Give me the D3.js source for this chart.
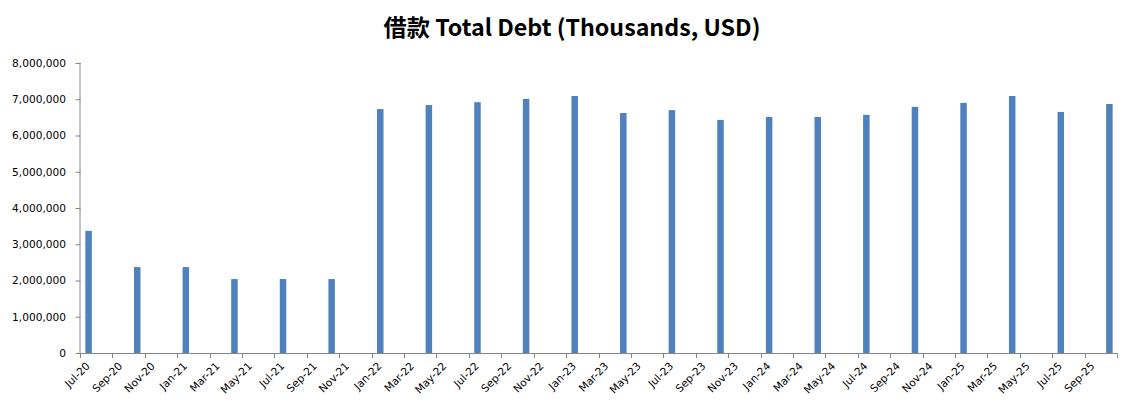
<!DOCTYPE html>
<html>
<head>
<meta charset="utf-8">
<script src="https://cdn.jsdelivr.net/npm/d3@7"></script>
<style>
html,body{margin:0;padding:0;background:#fff;}
svg{display:block;}
</style>
</head>
<body>
<svg id="chart" width="1131" height="409"></svg>
<script>
// ---- data ----
const titleText = "借款 Total Debt (Thousands, USD)";
const periods = ["2020-07","2020-10","2021-01","2021-04","2021-07","2021-10",
  "2022-01","2022-04","2022-07","2022-10","2023-01","2023-04","2023-07","2023-10",
  "2024-01","2024-04","2024-07","2024-10","2025-01","2025-04","2025-07","2025-10"];
const totalDebt = [3370000,2370000,2370000,2040000,2040000,2040000,
  6730000,6840000,6920000,7010000,7090000,6620000,6700000,6430000,
  6510000,6510000,6570000,6790000,6900000,7090000,6650000,6870000];
const yTicks = [0,1000000,2000000,3000000,4000000,5000000,6000000,7000000,8000000];
const axisStart = "2020-07", axisMonths = 64, tickEvery = 2, lastLabelIndex = 62;

const monthNames = ["Jan","Feb","Mar","Apr","May","Jun","Jul","Aug","Sep","Oct","Nov","Dec"];
function addMonths(ym, k){
  const [y,m] = ym.split("-").map(Number);
  const t = y*12 + (m-1) + k;
  return Math.floor(t/12) + "-" + String(t%12+1).padStart(2,"0");
}
function fmtMonth(ym){
  const [y,m] = ym.split("-").map(Number);
  return monthNames[m-1] + "-" + String(y%100).padStart(2,"0");
}
const allMonths = d3.range(axisMonths).map(i => addMonths(axisStart, i));

const svg = d3.select("#chart");
const margin = {left:80, right:14, top:63, bottom:56};
const plotRight = 1117, plotBottom = 353;

const x = d3.scaleBand().domain(allMonths).range([margin.left, plotRight]).paddingInner(0).paddingOuter(0);
const y = d3.scaleLinear().domain([0, 8000000]).range([plotBottom, margin.top]);

const axisColor = "#868686";
const font = "'DejaVu Sans', Verdana, sans-serif";

// bars
const bw = 6.5;
svg.append("g").selectAll("rect").data(periods).join("rect")
  .attr("x", (d) => x(d) + x.bandwidth()/2 - bw/2 + 0.5)
  .attr("y", (d,i) => y(totalDebt[i]))
  .attr("width", bw)
  .attr("height", (d,i) => y(0) - y(totalDebt[i]))
  .attr("fill", "#4F81BD");

// y axis
const yAxis = d3.axisLeft(y).tickValues(yTicks).tickSize(5).tickPadding(9)
  .tickFormat(d3.format(","));
const gy = svg.append("g").attr("transform", `translate(${margin.left},0)`).call(yAxis);
gy.select(".domain").attr("stroke", axisColor).attr("d", `M-0.5,${margin.top-0.5}V${plotBottom}`).attr("transform","translate(0.5,0)");
gy.selectAll(".tick line").attr("stroke", axisColor).attr("transform","translate(0.5,0)");
gy.selectAll(".tick text").attr("font-family", font).attr("font-size", "10.6px").attr("fill", "#000");

// x axis: tick positions at band boundaries every 2 months
const tickIdx = d3.range(0, axisMonths + 1, tickEvery);
const xPos = i => margin.left + i * x.step();
const gx = svg.append("g");
gx.append("line").attr("x1", margin.left).attr("x2", plotRight + 1)
  .attr("y1", plotBottom + 0.5).attr("y2", plotBottom + 0.5).attr("stroke", axisColor);
gx.selectAll("line.tk").data(tickIdx).join("line").attr("class","tk")
  .attr("x1", i => Math.round(xPos(i)) + 0.5).attr("x2", i => Math.round(xPos(i)) + 0.5)
  .attr("y1", plotBottom).attr("y2", plotBottom + 5).attr("stroke", axisColor);
gx.selectAll("text").data(tickIdx.filter(i => i <= lastLabelIndex)).join("text")
  .attr("transform", i => `translate(${xPos(i) + 8},${plotBottom + 11}) rotate(-45)`)
  .attr("text-anchor", "end")
  .attr("dy", "0.35em")
  .attr("font-family", font).attr("font-size", "10.6px").attr("fill", "#000")
  .text(i => fmtMonth(addMonths(axisStart, i)));

// title
const title = svg.append("text")
  .attr("x", 572).attr("y", 36)
  .attr("text-anchor", "middle")
  .attr("font-family", "'Noto Sans CJK SC', 'Open Sans', sans-serif")
  .attr("font-weight", "bold").attr("font-size", "22px").attr("fill", "#000")
  .text(titleText);
const tw = title.node().getComputedTextLength();
if (tw > 0) title.attr("font-size", (22 * 377 / tw).toFixed(2) + "px");
</script>
</body>
</html>
